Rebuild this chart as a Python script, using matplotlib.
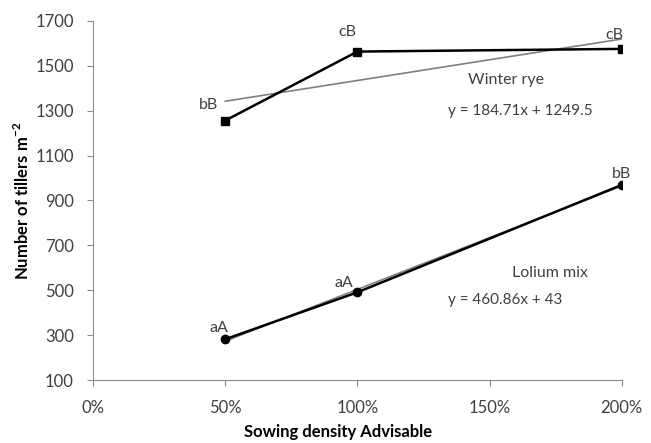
import numpy as np
import matplotlib.pyplot as plt
from matplotlib.ticker import PercentFormatter

plt.rcParams['font.family'] = ['Lato', 'DejaVu Sans']
plt.rcParams['mathtext.fontset'] = 'custom'
plt.rcParams['mathtext.rm'] = 'Lato'
plt.rcParams['mathtext.bf'] = 'Lato:bold'

density = [0.5, 1.0, 2.0]
rye = [1256, 1563, 1575]
lolium = [282, 491, 969]
rye_letters = ['bB', 'cB', 'cB']
lolium_letters = ['aA', 'aA', 'bB']

# trendline coefficients as printed on the chart
rye_fit = (184.71, 1249.5)
lolium_fit = (460.86, 43)

fig = plt.figure(figsize=(6.51, 4.43), dpi=100)
ax = fig.add_axes([0.143, 0.142, 0.812, 0.811])

xs = np.array([density[0], density[-1]])
ax.plot(xs, rye_fit[0] * xs + rye_fit[1], color='#7f7f7f', lw=1.2, zorder=2)
ax.plot(xs, lolium_fit[0] * xs + lolium_fit[1], color='#7f7f7f', lw=1.2, zorder=2)
ax.plot(density, rye, color='black', lw=1.8, marker='s', ms=6, zorder=3)
ax.plot(density, lolium, color='black', lw=1.8, marker='o', ms=6, zorder=3)

# significance letters (offsets in pixels)
offs_rye = [(-17, 16), (-10, 20), (-7, 14)]
for x, y, t, o in zip(density, rye, rye_letters, offs_rye):
    ax.annotate(t, (x, y), xytext=o, textcoords='offset pixels', fontsize=11.5,
                color='#404040', ha='center', va='center')
offs_lol = [(-6, 11), (-13, 9), (0, 11)]
for x, y, t, o in zip(density, lolium, lolium_letters, offs_lol):
    ax.annotate(t, (x, y), xytext=o, textcoords='offset pixels', fontsize=11.5,
                color='#404040', ha='center', va='center')

ax.text(1.561, 1437, 'Winter rye', fontsize=11.5, color='#404040', ha='center', va='center')
ax.text(1.618, 1299, 'y = 184.71x + 1249.5', fontsize=11, color='#404040', ha='center', va='center')
ax.text(1.728, 577, 'Lolium mix', fontsize=11.5, color='#404040', ha='center', va='center')
ax.text(1.558, 457, 'y = 460.86x + 43', fontsize=11, color='#404040', ha='center', va='center')

ax.set_xlim(0, 2)
ax.set_ylim(100, 1700)
ax.set_xticks([0, 0.5, 1, 1.5, 2])
ax.set_yticks(range(100, 1701, 200))
ax.xaxis.set_major_formatter(PercentFormatter(1.0, decimals=0))
for s in ['top', 'right']:
    ax.spines[s].set_visible(False)
for s in ['left', 'bottom']:
    ax.spines[s].set_color('#8c8c8c')
ax.tick_params(colors='#8c8c8c', labelcolor='#404040', labelsize=12, length=4.3)
ax.tick_params(axis='x', pad=10)
ax.tick_params(axis='y', pad=9.5)

ax.set_xlabel('Sowing density Advisable', fontsize=12, fontweight='bold', va='center')
ax.xaxis.set_label_coords(0.463, -0.145)
ax.set_ylabel(r'Number of tillers m$^{\mathbf{-2}}$', fontsize=12, fontweight='bold', va='center')
ax.yaxis.set_label_coords(-0.134, 0.5)

fig.savefig('out.png', dpi=100)
